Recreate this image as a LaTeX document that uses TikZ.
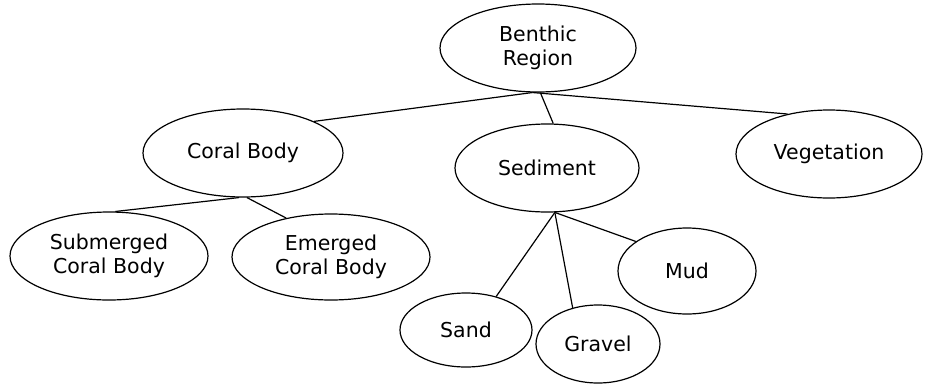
\documentclass[tikz,border=0pt]{standalone}
\usepackage{fontspec}
\setmainfont{DejaVu Sans}
\usetikzlibrary{shapes.geometric}
\begin{document}
\begin{tikzpicture}[x=1pt,y=-1pt,
  oval/.style={ellipse,draw=black,line width=1.2pt,inner sep=0pt,align=center,
    font=\fontsize{20.5}{23.5}\selectfont,text=black},
  link/.style={draw=black,line width=1.2pt}]
\useasboundingbox (0,0) rectangle (925,386);
\node[oval,minimum width=196pt,minimum height=88pt] (ben) at (538,48) {Benthic\\Region};
\node[oval,minimum width=200pt,minimum height=88pt] (cor) at (243,153) {Coral Body};
\node[oval,minimum width=184pt,minimum height=88pt] (sed) at (547,168) {Sediment};
\node[oval,minimum width=186pt,minimum height=88pt] (veg) at (829,154) {Vegetation};
\node[oval,minimum width=198pt,minimum height=88pt] (sub) at (109,256) {Submerged\\Coral Body};
\node[oval,minimum width=198pt,minimum height=86pt] (eme) at (331,257) {Emerged\\Coral Body};
\node[oval,minimum width=138pt,minimum height=86pt] (mud) at (687,271) {Mud};
\node[oval,minimum width=132pt,minimum height=74pt] (san) at (466,330) {Sand};
\node[oval,minimum width=124pt,minimum height=78pt] (gra) at (598,344) {Gravel};
\draw[link] (ben.263) -- (cor.24);
\draw[link] (ben.263) -- (veg.136);
\draw[link] (ben.273) -- (sed.82);
\draw[link] (cor.265) -- (sub.82);
\draw[link] (cor.275) -- (eme.139);
\draw[link] (sed.280) -- (san.48);
\draw[link] (sed.280) -- (gra.125);
\draw[link] (sed.280) -- (mud.150);
\end{tikzpicture}
\end{document}
